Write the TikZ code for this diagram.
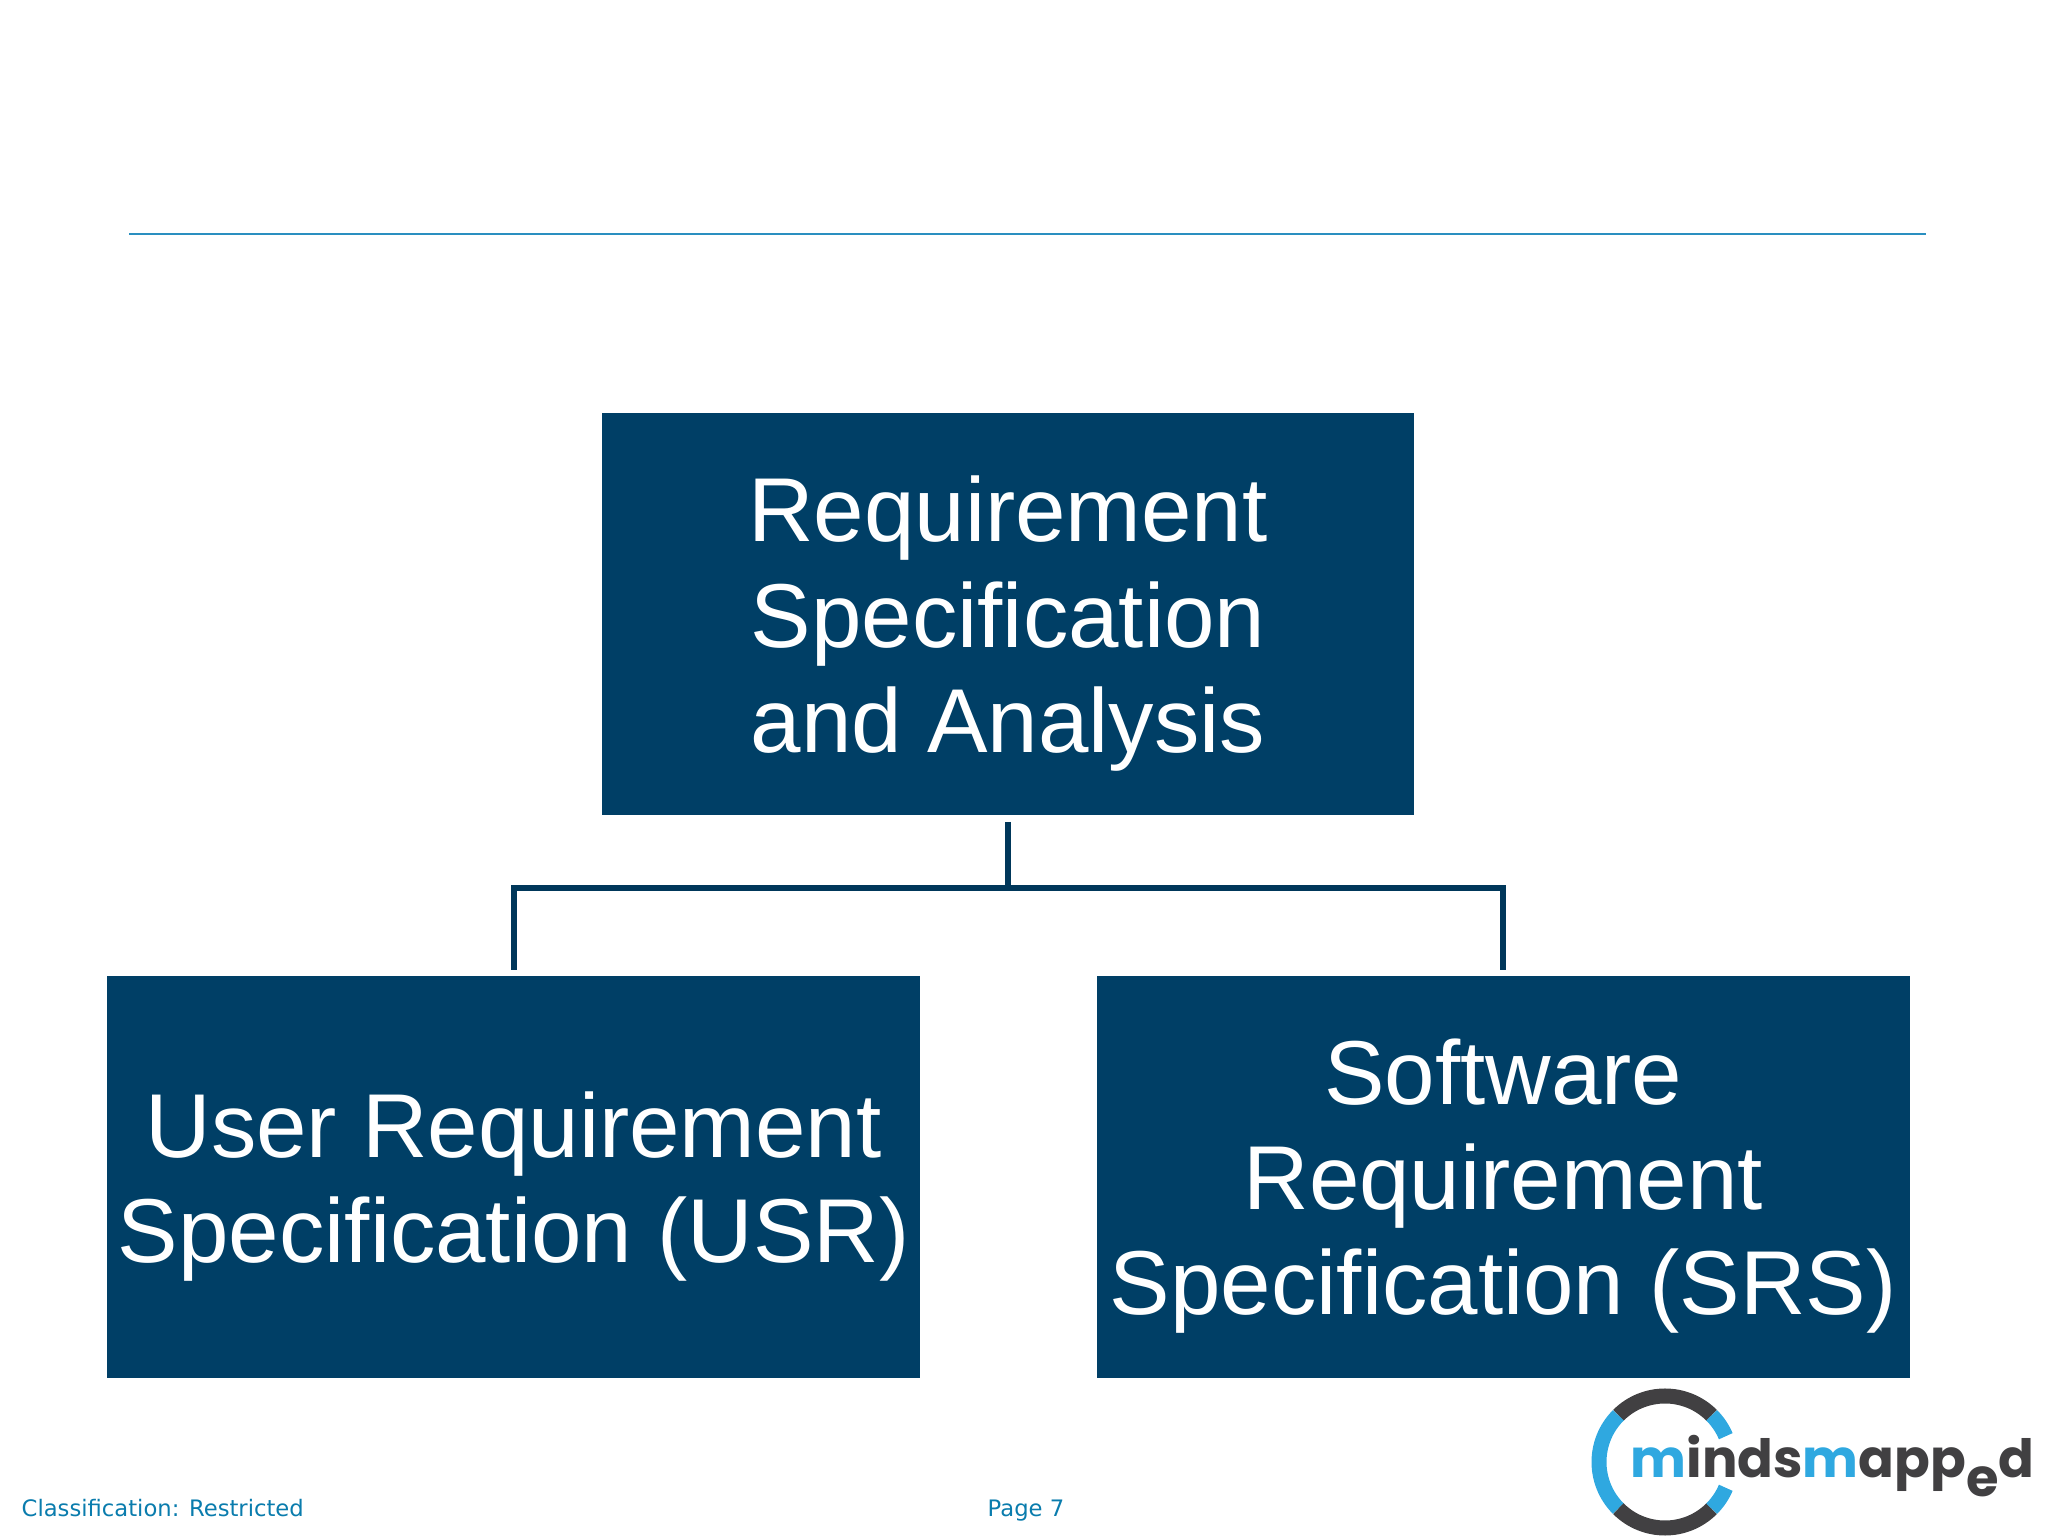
\documentclass[tikz,border=0pt]{standalone}
\usepackage{fontspec}
\setmainfont{Liberation Sans}
\newfontfamily\footfont{DejaVu Sans}
\newfontfamily\logofont{Poppins}
\usetikzlibrary{positioning}
\definecolor{boxblue}{HTML}{003F66}
\definecolor{linkblue}{HTML}{00375A}
\definecolor{ruleblue}{HTML}{2A8FC0}
\definecolor{footblue}{HTML}{0A7CAD}
\definecolor{logoblue}{HTML}{2FA8E0}
\definecolor{logodark}{HTML}{414042}
\newcommand{\topgap}{\rule{0pt}{0.85cm}}
\begin{document}
\begin{tikzpicture}[x=0.01cm, y=0.01cm, node distance={1.59cm},
    main/.style = {draw=none, fill=boxblue, text=white, minimum width=8.12cm, minimum height=4.02cm, inner sep=0pt, align=center, font=\fontsize{25.8}{29.9}\selectfont},
    link/.style = {draw=linkblue, line width=0.06cm},
    foot/.style = {inner sep=0pt, anchor=base west, text=footblue, font=\footfont\fontsize{6.45}{8}\selectfont},
    ring/.style = {line width=0.15cm}]
    \useasboundingbox (0,0) rectangle (2048,1536);

    \coordinate (a) at (129,1302);
    \coordinate (b) at (1926,1302);
    \draw[ruleblue, line width=0.4pt] (a) -- (b);

    \node[main] (1) at (1008,922) {\topgap Requirement\\Specification\\and Analysis};
    \node[main] (2) [below=of 1, xshift=-4.94cm] {\topgap User Requirement\\Specification (USR)};
    \node[main] (3) [below=of 1, xshift=4.95cm] {\topgap Software\\Requirement\\Specification (SRS)};
    \coordinate[below=0.72cm of 1] (j);

    \draw[link, shorten <=0.06cm] (1) -- (j);
    \draw[link, shorten >=0.05cm] (j) -| (2);
    \draw[link, shorten >=0.05cm] (j) -| (3);

    \node[foot] (4) at (21,20) {Classification: Restricted};
    \node[foot] (5) at (987,20) {Page 7};

    \draw[ring, logodark] (1665,74) ++(135:66) arc[start angle=135, end angle=45, radius=66];
    \draw[ring, logoblue] (1665,74) ++(135:66) arc[start angle=135, end angle=225, radius=66];
    \draw[ring, logodark] (1665,74) ++(225:66) arc[start angle=225, end angle=315, radius=66];
    \draw[ring, logoblue] (1665,74) ++(45:66) arc[start angle=45, end angle=23, radius=66];
    \draw[ring, logoblue] (1665,74) ++(315:66) arc[start angle=315, end angle=337, radius=66];
    \node[inner sep=0pt, anchor=base west, font=\logofont\bfseries\fontsize{15}{16}\selectfont] (6) at (1630,58)
        {\textcolor{logoblue}{m}\textcolor{logodark}{i}\textcolor{logodark}{nds}\textcolor{logoblue}{m}\textcolor{logodark}{app\raisebox{-0.18cm}{e}d}};
\end{tikzpicture}
\end{document}
